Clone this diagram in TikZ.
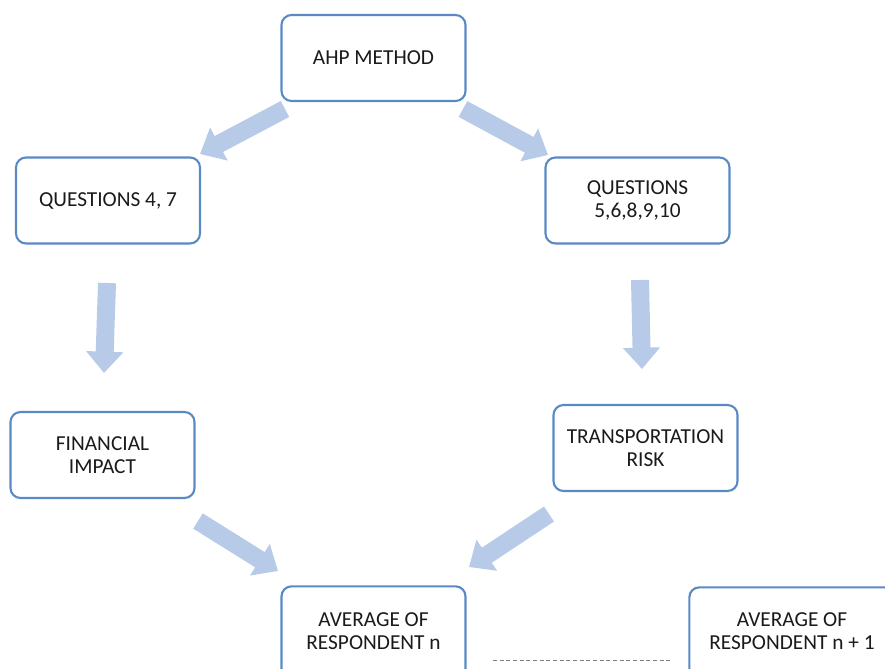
\documentclass[tikz,border=0pt]{standalone}
\usepackage{fontspec}
\setmainfont{Carlito}
\usetikzlibrary{arrows.meta}
\definecolor{boxline}{HTML}{5A8AC6}
\definecolor{arrfill}{HTML}{B7CBE8}
\definecolor{txt}{HTML}{1A1A1A}
\begin{document}
\begin{tikzpicture}[x=0.75pt,y=-0.75pt,
  box/.style={draw=boxline,line width=1.6pt,rounded corners=7.5pt,fill=white,
    minimum width=138pt,minimum height=64.5pt,align=center,
    font=\fontsize{16}{17.25}\selectfont,text=txt,inner sep=2pt},
  lbl/.style={align=center,font=\fontsize{16}{17.25}\selectfont,text=txt},
  bigarrow/.style={draw=arrfill,line width=13.5pt,
    -{Triangle[width=27pt,length=16pt,fill=arrfill]}}]
\useasboundingbox (0,0) rectangle (885,668);
\begin{scope}
\clip (0,0) rectangle (885,668);
\node[box] (ahp) at (373.5,58) {AHP METHOD};
\node[box] (q47) at (108,200.5) {QUESTIONS 4, 7};
\node[box] (q5) at (637.5,200.5) {QUESTIONS\\5,6,8,9,10};
\node[box] (fin) at (102.5,455) {FINANCIAL\\IMPACT};
\node[box] (tr) at (645.5,448) {TRANSPORTATION\\RISK};
\node[box,minimum height=100pt] (avgn) at (373.5,653) {};
\node[lbl] (avgntext) at (373.5,631) {AVERAGE OF\\RESPONDENT n};
\node[box,minimum height=100pt,minimum width=220pt] (avgn1) at (836,654) {};
\node[lbl] (avgn1text) at (792,631) {AVERAGE OF\\RESPONDENT n + 1};
\end{scope}
\coordinate (a1s) at (285,109);
\coordinate (a1e) at (200,154);
\coordinate (a2s) at (463,109);
\coordinate (a2e) at (548,155);
\coordinate (a3s) at (107,283);
\coordinate (a3e) at (104,373);
\coordinate (a4s) at (640,280);
\coordinate (a4e) at (642,369);
\coordinate (a5s) at (198,521);
\coordinate (a5e) at (278,571);
\coordinate (a6s) at (549,514);
\coordinate (a6e) at (469,567);
\draw[bigarrow] (a1s) -- (a1e);
\draw[bigarrow] (a2s) -- (a2e);
\draw[bigarrow] (a3s) -- (a3e);
\draw[bigarrow] (a4s) -- (a4e);
\draw[bigarrow] (a5s) -- (a5e);
\draw[bigarrow] (a6s) -- (a6e);
\coordinate (d1) at (493,660);
\coordinate (d2) at (672,660);
\draw[gray,line width=0.75pt,dash pattern=on 3pt off 2pt] (d1) -- (d2);
\end{tikzpicture}
\end{document}
